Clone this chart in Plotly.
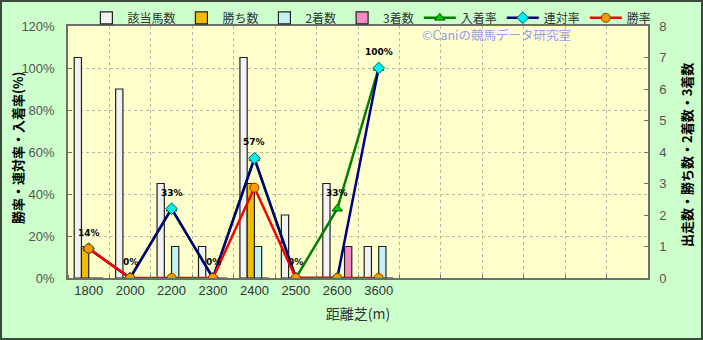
import plotly.graph_objects as go

# ---- data ----
categories = ["1800", "2000", "2200", "2300", "2400", "2500", "2600", "3600"]
n_slots = 14  # total category slots on the x axis (remaining are empty)
runners = [7, 6, 3, 1, 7, 2, 3, 1]        # 該当馬数
wins = [1, 0, 0, 0, 3, 0, 0, 0]           # 勝ち数
seconds = [0, 0, 1, 0, 1, 0, 0, 1]        # 2着数
thirds = [0, 0, 0, 0, 0, 0, 1, 0]         # 3着数
place_rate = [14, 0, 33, 0, 57, 0, 33, 100]      # 入着率 (%)
quinella_rate = [14, 0, 33, 0, 57, 0, 0, 100]    # 連対率 (%)
win_rate = [14, 0, 0, 0, 43, 0, 0, 0]            # 勝率 (%)

xs = list(range(len(categories)))

FONT = "Liberation Sans, Noto Sans CJK JP, sans-serif"
JP = "Noto Sans CJK JP, sans-serif"

fig = go.Figure()

bar_specs = [
    ("該当馬数", runners, "#F2F2F2"),
    ("勝ち数", wins, "#F0BE00"),
    ("2着数", seconds, "#C4F2F2"),
    ("3着数", thirds, "#EE8CC4"),
]
for name, vals, col in bar_specs:
    fig.add_trace(go.Bar(
        x=xs, y=vals, name=name, yaxis="y",
        marker=dict(color=col, line=dict(color="#202020", width=1.2)),
    ))

line_specs = [
    ("入着率", place_rate, "#008000", "triangle-up", "#00D000", "#005000"),
    ("連対率", quinella_rate, "#000080", "diamond", "#00F0F0", "#006060"),
    ("勝率", win_rate, "#FF0000", "circle", "#FF9900", "#804000"),
]
for name, vals, lc, sym, mc, ml in line_specs:
    fig.add_trace(go.Scatter(
        x=xs, y=vals, name=name, yaxis="y2", mode="lines+markers",
        line=dict(color=lc, width=2.5),
        marker=dict(symbol=sym, size=9, color=mc, line=dict(color=ml, width=1)),
    ))

annotations = []
for x, v in zip(xs, place_rate):
    annotations.append(dict(
        x=x, y=v, xref="x", yref="y2", text=f"{v}%", showarrow=False,
        yshift=16, font=dict(size=9, family="DejaVu Sans", color="#000000", weight="bold"),
    ))

annotations.append(dict(
    x=0.607, y=0.965, xref="paper", yref="paper", xanchor="left", yanchor="middle",
    text="©Caniの競馬データ研究室", showarrow=False,
    font=dict(size=12.5, family=JP, color="#9A9AF0"),
))
# axis titles
annotations.append(dict(
    x=(17 - 68) / 580, y=(278 - 148) / 252, xref="paper", yref="paper",
    xanchor="center", yanchor="middle", textangle=-90, showarrow=False,
    text="<b>勝率・連対率・入着率(%)</b>",
    font=dict(size=13, family=JP, color="#000000"),
))
annotations.append(dict(
    x=(686 - 68) / 580, y=(278 - 155) / 252, xref="paper", yref="paper",
    xanchor="center", yanchor="middle", textangle=-90, showarrow=False,
    text="<b>出走数・勝ち数・2着数・3着数</b>",
    font=dict(size=13, family=JP, color="#000000"),
))

fig.update_layout(
    width=703, height=340,
    margin=dict(l=68, r=55, t=26, b=62, autoexpand=False),
    paper_bgcolor="#CCFFCC",
    plot_bgcolor="#FFFFCC",
    font=dict(family=FONT, size=12, color="#404040"),
    barmode="group", bargap=0.3, bargroupgap=0,
    showlegend=True,
    legend=dict(
        orientation="h", x=0.03, y=1.09, xanchor="left", yanchor="top",
        bgcolor="rgba(0,0,0,0)", font=dict(size=12, family=JP, color="#333333"),
        traceorder="normal", itemwidth=32, tracegroupgap=0,
    ),
    xaxis=dict(
        range=[-0.5, n_slots - 0.5], automargin=False,
        tickmode="array", tickvals=xs, ticktext=categories,
        showgrid=False, ticks="", zeroline=False,
        showline=True, linecolor="#6E6E6E", linewidth=1.5, mirror=True,
        tickfont=dict(size=13, color="#333333"),
        minor=dict(tick0=-0.5, dtick=1, showgrid=True, gridcolor="#B8B8A8",
                   griddash="dot", gridwidth=1, ticks="inside", ticklen=3,
                   tickcolor="#6E6E6E"),
        title=dict(text="距離芝(m)", font=dict(size=14, family=JP, color="#333333"), standoff=12),
    ),
    yaxis=dict(
        side="right", range=[0, 8], dtick=1, showgrid=False, zeroline=False,
        automargin=False,
        ticks="inside", ticklen=4, tickcolor="#6E6E6E",
        showline=True, linecolor="#6E6E6E", linewidth=1.5,
        tickfont=dict(size=13, color="#555555"), ticklabelstandoff=7,
    ),
    yaxis2=dict(
        side="left", overlaying="y", range=[0, 120], dtick=20, ticksuffix="%",
        automargin=False,
        showgrid=True, gridcolor="#B8B8A8", griddash="dot", gridwidth=1,
        zeroline=False, ticks="inside", ticklen=4, tickcolor="#6E6E6E",
        showline=True, linecolor="#6E6E6E", linewidth=1.5,
        tickfont=dict(size=13, color="#555555"), ticklabelstandoff=9,
    ),
    annotations=annotations,
    shapes=[dict(
        type="rect", xref="paper", yref="paper",
        x0=(1 - 68) / 580, x1=(702 - 68) / 580,
        y0=(278 - 339) / 252, y1=(278 - 1) / 252,
        line=dict(color="#3C483C", width=2), fillcolor="rgba(0,0,0,0)", layer="above",
    )],
)

fig.write_html("out.html")
